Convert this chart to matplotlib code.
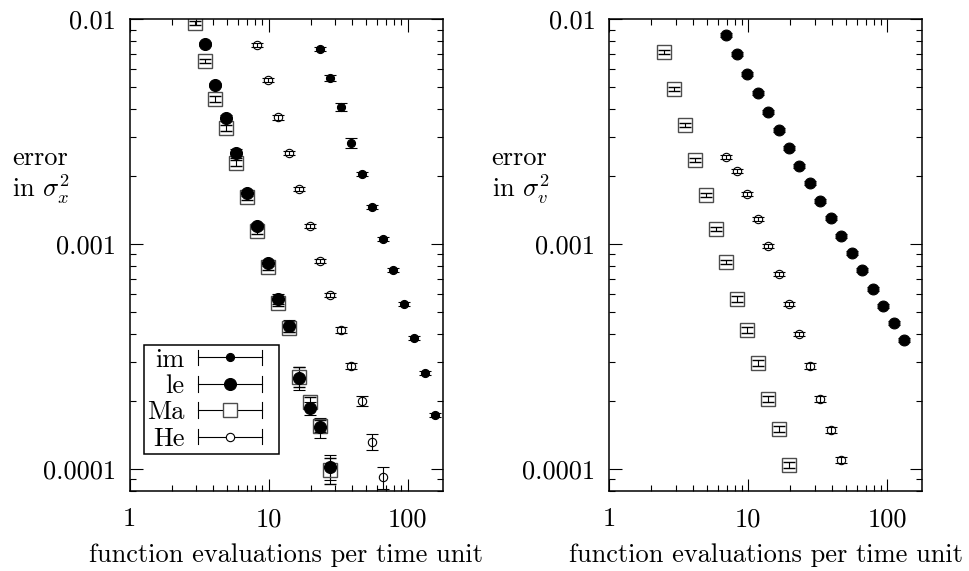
import numpy as np
import matplotlib
matplotlib.use("Agg")
import matplotlib.pyplot as plt
from matplotlib.lines import Line2D
from matplotlib.legend_handler import HandlerBase
from matplotlib.ticker import LogLocator, NullFormatter

plt.rcParams['font.family'] = 'serif'
plt.rcParams['font.serif'] = ['cmr10', 'DejaVu Serif']
plt.rcParams['mathtext.fontset'] = 'cm'
plt.rcParams['axes.formatter.use_mathtext'] = True
FS = 19

# -----------------------
# left panel: error in sigma_x^2
# -----------------------
x_im_l = [23.2, 27.7, 32.9, 39.0, 46.5, 55.5, 65.9, 78.6, 93.3, 110.8, 132.1, 156.0]
y_im_l = [0.00738, 0.00550, 0.00408, 0.00281, 0.00206, 0.001467, 0.001050,
          0.000767, 0.000541, 0.000383, 0.000268, 0.000174]
r_im_l = [0.02, 0.03, 0.04, 0.05, 0.02, 0.02, 0.02, 0.02, 0.02, 0.02, 0.02, 0.02]

x_le_l = [3.48, 4.14, 4.92, 5.84, 6.94, 8.27, 9.80, 11.65, 13.88, 16.57, 19.66, 23.3, 27.7]
y_le_l = [0.00779, 0.00512, 0.00363, 0.002534, 0.001693, 0.001203, 0.000821,
          0.000570, 0.000434, 0.000254, 0.000186, 0.000153, 0.0001023]
r_le_l = [0.02, 0.02, 0.03, 0.05, 0.03, 0.03, 0.03, 0.05, 0.06, 0.12, 0.07, 0.10, 0.13]

x_ma_l = [2.93, 3.48, 4.14, 4.92, 5.84, 6.94, 8.27, 9.80, 11.65, 13.88, 16.57, 19.66, 23.3, 27.7]
y_ma_l = [0.00960, 0.00654, 0.00443, 0.003274, 0.002302, 0.001615, 0.001147,
          0.000788, 0.000549, 0.000425, 0.000257, 0.0001978, 0.0001552, 0.0000989]
r_ma_l = [0.02, 0.02, 0.03, 0.03, 0.03, 0.03, 0.03, 0.03, 0.03, 0.04, 0.10, 0.06, 0.06, 0.13]

x_he_l = [8.27, 9.80, 11.65, 13.88, 16.57, 19.66, 23.3, 27.7, 32.9, 39.0, 46.5, 55.5, 65.9]
y_he_l = [0.00771, 0.00537, 0.00366, 0.002542, 0.001764, 0.001208, 0.000844,
          0.000592, 0.000414, 0.000288, 0.000201, 0.0001318, 0.0000918]
r_he_l = [0.02, 0.02, 0.03, 0.02, 0.02, 0.02, 0.02, 0.02, 0.03, 0.03, 0.05, 0.08, 0.11]

# -----------------------
# right panel: error in sigma_v^2
# -----------------------
x_le_r = [6.94, 8.27, 9.80, 11.65, 13.88, 16.57, 19.66, 23.3, 27.7, 32.9, 39.0,
          46.5, 55.5, 65.9, 78.6, 93.3, 110.8, 132.1]
y_le_r = [0.00854, 0.00699, 0.00571, 0.00470, 0.00387, 0.003228, 0.002684, 0.002233,
          0.001864, 0.001560, 0.001306, 0.001090, 0.000915, 0.000769, 0.000633,
          0.000532, 0.000447, 0.000376]
r_le_r = [0.02] * 18

x_ma_r = [2.46, 2.93, 3.48, 4.14, 4.92, 5.84, 6.94, 8.27, 9.80, 11.65, 13.88, 16.57, 19.66]
y_ma_r = [0.00713, 0.00490, 0.00339, 0.002366, 0.001654, 0.001167, 0.000833,
          0.000570, 0.000415, 0.000297, 0.0002046, 0.0001500, 0.0001041]
r_ma_r = [0.02, 0.02, 0.02, 0.02, 0.02, 0.02, 0.02, 0.03, 0.03, 0.03, 0.03, 0.03, 0.03]

x_he_r = [6.94, 8.27, 9.80, 11.65, 13.88, 16.57, 19.66, 23.3, 27.7, 32.9, 39.0, 46.5]
y_he_r = [0.002433, 0.002121, 0.001666, 0.001297, 0.000978, 0.000739, 0.000543,
          0.000400, 0.000288, 0.0002053, 0.0001494, 0.0001092]
r_he_r = [0.02, 0.02, 0.02, 0.02, 0.02, 0.02, 0.02, 0.02, 0.03, 0.03, 0.03, 0.03]

styles = {
    'im': dict(marker='o', ms=5.8, mfc='k', mec='k', mew=0.8),
    'le': dict(marker='o', ms=8.6, mfc='k', mec='k', mew=0.8),
    'Ma': dict(marker='s', ms=10.5, mfc='none', mec='0.3', mew=1.0),
    'He': dict(marker='o', ms=6.0, mfc='none', mec='k', mew=0.8),
}


def draw(ax, x, y, rel, name, **kw):
    y = np.array(y)
    err = y * np.array(rel)
    st = dict(styles[name])
    st.update(kw)
    ax.errorbar(x, y, yerr=err, ls='none', ecolor='k', elinewidth=0.8,
                capsize=4.4, capthick=0.8, **st)


class ErrHandler(HandlerBase):
    def create_artists(self, legend, orig_handle, xdescent, ydescent,
                       width, height, fontsize, trans):
        yc = (height - ydescent) / 2
        x0 = -xdescent
        x1 = x0 + 0.83 * width
        cap = 0.3 * fontsize
        bar = Line2D([x0, x1], [yc, yc], color='k', lw=0.8)
        c0 = Line2D([x0, x0], [yc - cap, yc + cap], color='k', lw=0.8)
        c1 = Line2D([x1, x1], [yc - cap, yc + cap], color='k', lw=0.8)
        mk = Line2D([(x0 + x1) / 2], [yc], ls='none',
                    marker=orig_handle.get_marker(),
                    ms=orig_handle.get_markersize(),
                    mfc=orig_handle.get_markerfacecolor(),
                    mec=orig_handle.get_markeredgecolor(),
                    mew=orig_handle.get_markeredgewidth())
        arts = [bar, c0, c1, mk]
        for a in arts:
            a.set_transform(trans)
        return arts


def style_axes(ax, ylab):
    ax.set_xscale('log')
    ax.set_yscale('log')
    ax.set_xlim(1, 178)
    ax.set_ylim(8.0e-5, 0.01)
    ax.set_xticks([1, 10, 100], labels=['1', '10', '100'])
    ax.set_yticks([0.0001, 0.001, 0.01], labels=['0.0001', '0.001', '0.01'])
    ax.xaxis.set_minor_locator(LogLocator(subs=np.arange(2, 10)))
    ax.yaxis.set_minor_locator(LogLocator(subs=np.arange(2, 10)))
    ax.xaxis.set_minor_formatter(NullFormatter())
    ax.yaxis.set_minor_formatter(NullFormatter())
    ax.tick_params(which='both', direction='in', top=True, right=True,
                   width=0.8, labelsize=FS)
    ax.tick_params(which='major', length=9)
    ax.tick_params(which='minor', length=4.5)
    ax.tick_params(axis='x', pad=12)
    ax.tick_params(axis='y', pad=10)
    for s in ax.spines.values():
        s.set_linewidth(1.1)
    ax.set_xlabel('function evaluations per time unit', fontsize=FS, labelpad=9)
    ax.text(-0.376, 0.668, ylab, transform=ax.transAxes, ha='left', va='center',
            fontsize=FS, multialignment='left', linespacing=1.1)


fig = plt.figure(figsize=(9.69, 5.71), dpi=100)
ax1 = fig.add_axes([0.1338, 0.1406, 0.3230, 0.8256])
ax2 = fig.add_axes([0.6288, 0.1406, 0.3230, 0.8256])

draw(ax1, x_im_l, y_im_l, r_im_l, 'im')
draw(ax1, x_ma_l, y_ma_l, r_ma_l, 'Ma')
draw(ax1, x_le_l, y_le_l, r_le_l, 'le')
draw(ax1, x_he_l, y_he_l, r_he_l, 'He')
style_axes(ax1, 'error\nin $\\sigma_x^2$')

draw(ax2, x_ma_r, y_ma_r, r_ma_r, 'Ma')
draw(ax2, x_le_r, y_le_r, r_le_r, 'le', ms=7.8)
draw(ax2, x_he_r, y_he_r, r_he_r, 'He')
style_axes(ax2, 'error\nin $\\sigma_v^2$')

# legend with horizontal error-bar samples
handles = []
for name in ['im', 'le', 'Ma', 'He']:
    st = dict(styles[name])
    if st['mfc'] == 'none':
        st['mfc'] = 'white'
    handles.append(Line2D([], [], ls='none', **st))
leg = ax1.legend(handles, ['im', 'le', 'Ma', 'He'], handler_map={Line2D: ErrHandler()},
                 loc='lower left', bbox_to_anchor=(0.046, 0.078), borderaxespad=0,
                 fontsize=FS, markerfirst=False, handlelength=2.92, handletextpad=0.52,
                 labelspacing=0.1, borderpad=0.12, fancybox=False, framealpha=1,
                 edgecolor='k')
leg.get_frame().set_linewidth(1.1)

plt.savefig('out.png', dpi=100)
